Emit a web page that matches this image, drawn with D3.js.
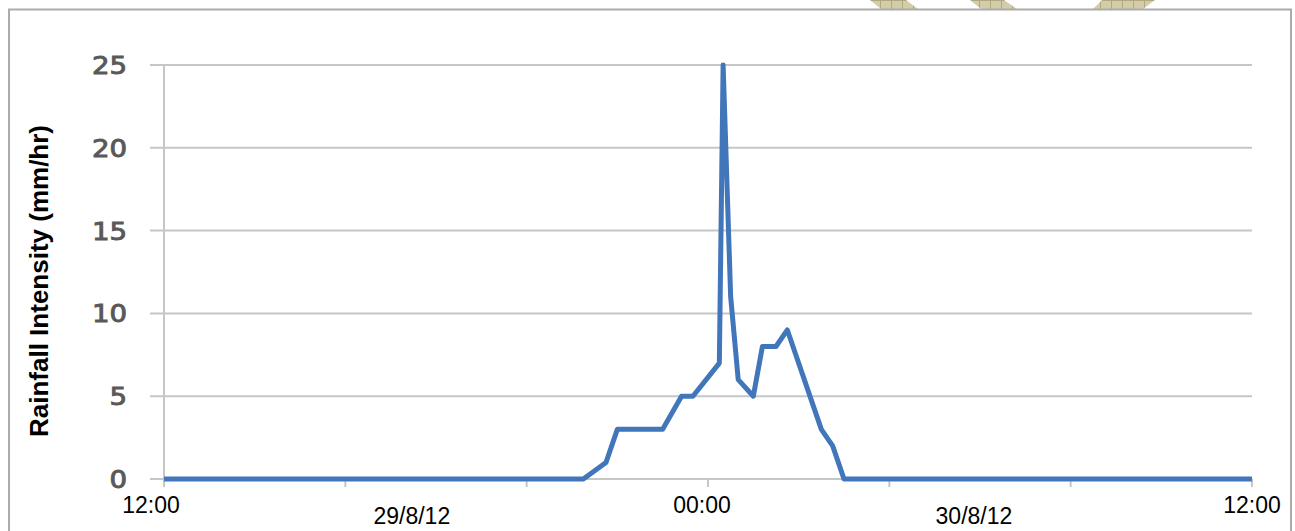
<!DOCTYPE html>
<html>
<head>
<meta charset="utf-8">
<script src="https://cdn.jsdelivr.net/npm/d3@7"></script>
<style>
  html, body { margin: 0; padding: 0; background: #fff; }
  svg { display: block; }
</style>
</head>
<body>
<svg id="chart" width="1295" height="531"></svg>
<script>
// Rainfall intensity record, 29/8/12 12:00 to 30/8/12 12:00
const times = [
  "2012-08-29 12:00", "2012-08-29 21:15", "2012-08-29 21:45", "2012-08-29 22:00",
  "2012-08-29 23:00", "2012-08-29 23:25", "2012-08-29 23:40", "2012-08-30 00:15",
  "2012-08-30 00:20", "2012-08-30 00:30", "2012-08-30 00:40", "2012-08-30 01:00",
  "2012-08-30 01:12", "2012-08-30 01:30", "2012-08-30 01:45", "2012-08-30 02:30",
  "2012-08-30 02:45", "2012-08-30 03:00", "2012-08-30 12:00"
];
const intensity = [0, 0, 1, 3, 3, 5, 5, 7, 25, 11, 6, 5, 8, 8, 9, 3, 2, 0, 0];

const yTicks = [0, 5, 10, 15, 20, 25];
const xTickTimes = [
  "2012-08-29 12:00", "2012-08-29 16:00", "2012-08-29 20:00", "2012-08-30 00:00",
  "2012-08-30 04:00", "2012-08-30 08:00", "2012-08-30 12:00"
];
const timeLabels = [
  { t: "2012-08-29 12:00", text: "12:00", dx: -13 },
  { t: "2012-08-30 00:00", text: "00:00", dx: -6 },
  { t: "2012-08-30 12:00", text: "12:00", dx: 0 }
];
const dateLabels = [
  { t: "2012-08-29 17:28", text: "29/8/12" },
  { t: "2012-08-30 05:52", text: "30/8/12" }
];
const yTitle = "Rainfall Intensity (mm/hr)";

const parse = d3.timeParse("%Y-%m-%d %H:%M");
const data = times.map((t, i) => ({ t: parse(t), v: intensity[i] }));

const svg = d3.select("#chart");
const plotLeft = 164, plotRight = 1252, plotTop = 65, plotBottom = 479;

const x = d3.scaleTime()
  .domain([parse(xTickTimes[0]), parse(xTickTimes[xTickTimes.length - 1])])
  .range([plotLeft, plotRight]);
const y = d3.scaleLinear().domain([0, 25]).range([plotBottom, plotTop]);

// decorative hatched tabs along the top edge
const defs = svg.append("defs");
const pat = defs.append("pattern")
  .attr("id", "hatch").attr("patternUnits", "userSpaceOnUse")
  .attr("width", 11).attr("height", 11);
pat.append("rect").attr("width", 11).attr("height", 11).attr("fill", "#d3cca8");
pat.append("path").attr("d", "M0,0.5H11M0.5,0V11")
  .attr("stroke", "#b1a87f").attr("stroke-width", 1);

const tabs = [
  [[870, 0], [906, 0], [918, 9], [881, 9]],
  [[970, 0], [1004, 0], [1017, 9], [981, 9]],
  [[1102, 0], [1155, 0], [1143, 9], [1093, 9]]
];
svg.append("g").selectAll("path").data(tabs).join("path")
  .attr("d", d => "M" + d.join("L") + "Z")
  .attr("fill", "url(#hatch)");

// outer frame
svg.append("path")
  .attr("d", "M9,540V9.5H1291V540")
  .attr("fill", "none").attr("stroke", "#ababab").attr("stroke-width", 2);

// horizontal gridlines
svg.append("g").selectAll("line").data(yTicks).join("line")
  .attr("x1", plotLeft - 14).attr("x2", plotRight)
  .attr("y1", d => y(d)).attr("y2", d => y(d))
  .attr("stroke", "#c6c6c6").attr("stroke-width", 2);

// vertical axis line
svg.append("line")
  .attr("x1", plotLeft).attr("x2", plotLeft)
  .attr("y1", y(25)).attr("y2", plotBottom + 8)
  .attr("stroke", "#c6c6c6").attr("stroke-width", 2);

// x tick marks
svg.append("g").selectAll("line").data(xTickTimes).join("line")
  .attr("x1", d => x(parse(d))).attr("x2", d => x(parse(d)))
  .attr("y1", plotBottom).attr("y2", plotBottom + 8)
  .attr("stroke", "#c6c6c6").attr("stroke-width", 2);

// y tick labels
svg.append("g").selectAll("text").data(yTicks).join("text")
  .attr("transform", d => `translate(127,${y(d) + 9}) scale(1.15,1)`)
  .attr("text-anchor", "end")
  .attr("font-family", "DejaVu Sans, sans-serif")
  .attr("font-size", 24)
  .attr("fill", "#595959")
  .attr("stroke", "#595959")
  .attr("stroke-width", 0.9)
  .text(d => d);

// x labels
svg.append("g").selectAll("text").data(timeLabels).join("text")
  .attr("x", d => x(parse(d.t)) + d.dx).attr("y", 513)
  .attr("text-anchor", "middle")
  .attr("font-family", "Liberation Sans, Arial, sans-serif")
  .attr("font-size", 23)
  .attr("fill", "#000")
  .text(d => d.text);

svg.append("g").selectAll("text").data(dateLabels).join("text")
  .attr("x", d => x(parse(d.t))).attr("y", 524)
  .attr("text-anchor", "middle")
  .attr("font-family", "Liberation Sans, Arial, sans-serif")
  .attr("font-size", 23)
  .attr("fill", "#000")
  .text(d => d.text);

// y axis title
svg.append("text")
  .attr("transform", "translate(48,281) rotate(-90)")
  .attr("text-anchor", "middle")
  .attr("font-family", "Liberation Sans, Arial, sans-serif")
  .attr("font-weight", "bold")
  .attr("font-size", 26)
  .attr("fill", "#000")
  .text(yTitle);

// rainfall series
const line = d3.line().x(d => x(d.t)).y(d => y(d.v));
svg.append("path")
  .datum(data)
  .attr("d", line)
  .attr("fill", "none")
  .attr("stroke", "#4176bb")
  .attr("stroke-width", 5)
  .attr("stroke-linejoin", "round");
</script>
</body>
</html>
